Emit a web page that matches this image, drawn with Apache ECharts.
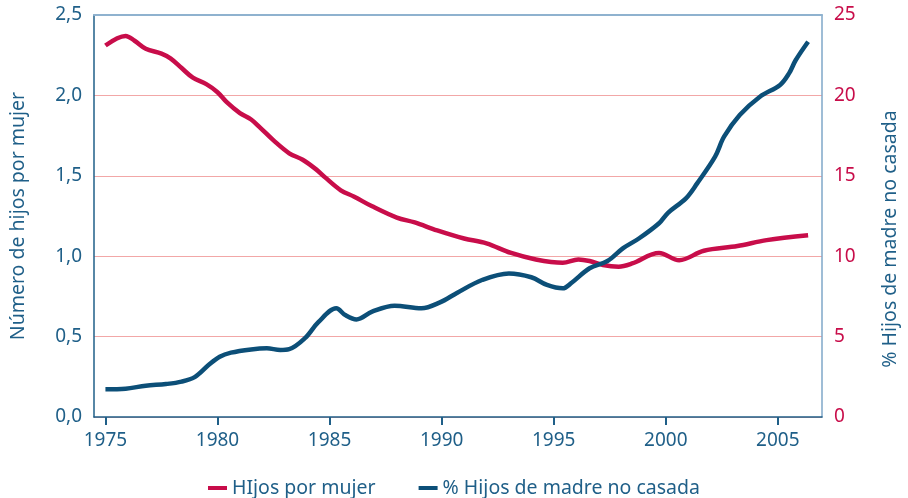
<!DOCTYPE html>
<html>
<head>
<meta charset="utf-8">
<script src="https://cdn.jsdelivr.net/npm/echarts@6/dist/echarts.min.js"></script>
<style>
  html, body { margin: 0; padding: 0; background: #fff; }
  #chart { width: 908px; height: 498px; }
</style>
</head>
<body>
<div id="chart"></div>
<script>
// Fertility (children per woman), sampled along the curve
const fertYears = [1975, 1975.9, 1976.3, 1976.8, 1977.5, 1977.9, 1978.4, 1978.9, 1979.5, 1980, 1980.4, 1981, 1981.5, 1981.9, 1982.5, 1983.2, 1983.8, 1984.4, 1984.8, 1985.5, 1986.1, 1986.9, 1988.0, 1988.8, 1989.8, 1991.0, 1992.0, 1993.1, 1994.2, 1995.4, 1996.1, 1996.6, 1997.2, 1997.9, 1998.5, 1999.7, 2000.6, 2001.7, 2003.2, 2004.5, 2006.35];
const fertValues = [2.31, 2.37, 2.34, 2.29, 2.26, 2.23, 2.17, 2.11, 2.07, 2.02, 1.96, 1.89, 1.85, 1.80, 1.72, 1.64, 1.60, 1.54, 1.49, 1.41, 1.37, 1.31, 1.24, 1.21, 1.16, 1.11, 1.08, 1.02, 0.98, 0.96, 0.98, 0.97, 0.945, 0.935, 0.955, 1.02, 0.975, 1.034, 1.063, 1.10, 1.13];

// Share of births to unmarried mothers (%)
const birthYears = [1975, 1975.9, 1976.8, 1977.7, 1978.4, 1979.0, 1979.6, 1980.1, 1980.6, 1981.5, 1982.2, 1982.8, 1983.2, 1983.9, 1984.5, 1985.3, 1985.7, 1986.2, 1986.9, 1987.9, 1989.1, 1989.9, 1990.7, 1991.8, 1993.0, 1994.0, 1994.7, 1995.4, 1995.8, 1996.6, 1997.4, 1998.1, 1998.8, 1999.7, 2000.1, 2000.9, 2001.4, 2002.2, 2002.6, 2003.3, 2004.2, 2005.1, 2005.5, 2005.8, 2006.35];
const birthValues = [1.72, 1.76, 1.95, 2.05, 2.2, 2.5, 3.23, 3.75, 4.0, 4.2, 4.27, 4.17, 4.22, 4.9, 5.9, 6.76, 6.34, 6.07, 6.55, 6.92, 6.76, 7.11, 7.73, 8.52, 8.93, 8.69, 8.21, 8.0, 8.35, 9.25, 9.7, 10.5, 11.1, 12.05, 12.7, 13.6, 14.53, 16.19, 17.43, 18.78, 19.92, 20.65, 21.37, 22.2, 23.34];

const yearTicks = [1975, 1980, 1985, 1990, 1995, 2000, 2005];

const seriesNames = ['HIjos por mujer', '% Hijos de madre no casada'];
const leftAxisName = 'Número de hijos por mujer';
const rightAxisName = '% Hijos de madre no casada';

const RED = '#c80d4a';
const BLUE = '#0c4f78';
const AXIS_BLUE = '#1f5f88';
const FONT = '"Noto Sans", "Open Sans", sans-serif';

const pairs = (xs, ys) => xs.map((x, i) => [x, ys[i]]);

const chart = echarts.init(document.getElementById('chart'), null, { renderer: 'canvas' });

chart.setOption({
  animation: false,
  textStyle: { fontFamily: FONT },
  grid: { left: 84, right: 82, top: 15, bottom: 81, containLabel: false },
  legend: {
    top: 473,
    left: 'center',
    icon: 'rect',
    itemWidth: 19,
    itemHeight: 4,
    itemGap: 43,
    textStyle: { fontFamily: FONT, fontSize: 19.5, color: AXIS_BLUE },
    data: seriesNames
  },
  xAxis: [
    {
      type: 'value',
      min: 1974.49,
      max: 2006.97,
      axisLine: { show: true, lineStyle: { color: AXIS_BLUE, width: 1.5 } },
      axisTick: {
        show: true,
        customValues: yearTicks,
        length: 8,
        lineStyle: { color: AXIS_BLUE, width: 2 }
      },
      axisLabel: {
        customValues: yearTicks,
        color: AXIS_BLUE,
        fontSize: 19,
        margin: 14,
        fontFamily: FONT,
        formatter: v => String(v)
      },
      splitLine: { show: false }
    },
    {
      type: 'value',
      position: 'top',
      min: 1974.49,
      max: 2006.97,
      axisLine: { show: true, onZero: false, lineStyle: { color: '#8fb2cf', width: 2 } },
      axisTick: { show: false },
      axisLabel: { show: false },
      splitLine: { show: false }
    }
  ],
  yAxis: [
    {
      type: 'value',
      min: 0,
      max: 2.5,
      interval: 0.5,
      name: leftAxisName,
      nameLocation: 'middle',
      nameGap: 66,
      nameTextStyle: { color: AXIS_BLUE, fontSize: 19.5, fontFamily: FONT },
      axisLine: { show: true, lineStyle: { color: AXIS_BLUE, width: 1.5 } },
      axisTick: { show: false },
      axisLabel: {
        color: AXIS_BLUE,
        fontSize: 19,
        margin: 12,
        fontFamily: FONT,
        formatter: v => v.toFixed(1).replace('.', ',')
      },
      splitLine: { show: true, lineStyle: { color: '#f2a7a7', width: 1 } }
    },
    {
      type: 'value',
      min: 0,
      max: 25,
      interval: 5,
      position: 'right',
      name: rightAxisName,
      nameLocation: 'middle',
      nameGap: 58,
      nameRotate: 90,
      nameTextStyle: { color: AXIS_BLUE, fontSize: 19.5, fontFamily: FONT, padding: [0, 46, 0, 0] },
      axisLine: { show: true, lineStyle: { color: '#7fa7c8', width: 1.5 } },
      axisTick: { show: false },
      axisLabel: { color: RED, fontSize: 19, margin: 12, fontFamily: FONT },
      splitLine: { show: false }
    }
  ],
  series: [
    {
      name: seriesNames[0],
      type: 'line',
      yAxisIndex: 0,
      data: pairs(fertYears, fertValues),
      smooth: 0.35,
      showSymbol: false,
      lineStyle: { color: RED, width: 4.5 },
      itemStyle: { color: RED },
      z: 3
    },
    {
      name: seriesNames[1],
      type: 'line',
      yAxisIndex: 1,
      data: pairs(birthYears, birthValues),
      smooth: 0.35,
      showSymbol: false,
      lineStyle: { color: BLUE, width: 4.5 },
      itemStyle: { color: BLUE },
      z: 4
    }
  ]
});
</script>
</body>
</html>
